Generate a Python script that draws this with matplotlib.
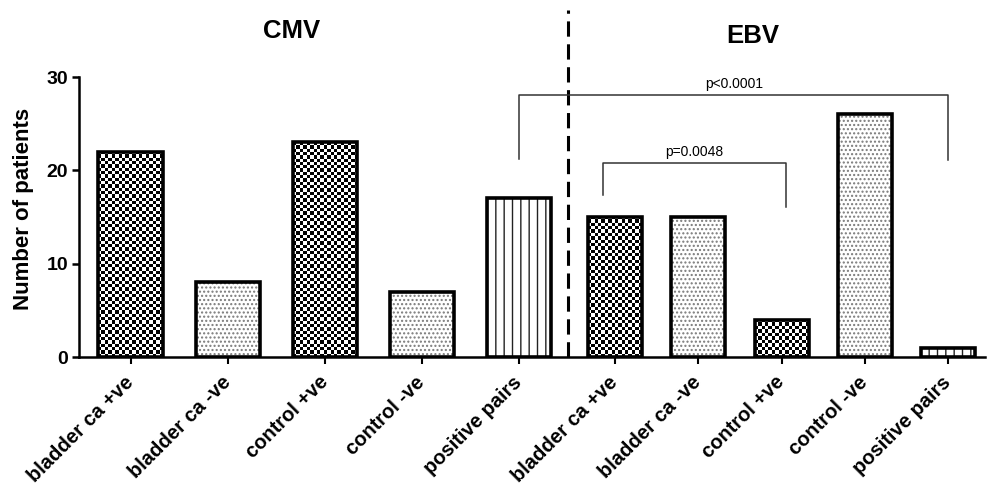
import numpy as np
import matplotlib
matplotlib.use("Agg")
import matplotlib.pyplot as plt

plt.rcParams['font.family'] = ['Liberation Sans', 'DejaVu Sans']
plt.rcParams['hatch.linewidth'] = 1.0

# data
categories = ['bladder ca +ve', 'bladder ca -ve', 'control +ve', 'control -ve', 'positive pairs']
cmv_counts = [22, 8, 23, 7, 17]
ebv_counts = [15, 15, 4, 26, 1]
patterns = ['checker', 'dots', 'checker', 'dots', 'lines']

# layout (x in units of the CMV bar spacing)
cmv_x = 0.53 + np.arange(5)
ebv_x = 5.515 + 0.856 * np.arange(5)
cmv_w = 0.66
ebv_w = 0.555
divider_x = 5.03

fig = plt.figure(figsize=(9.95, 4.88), dpi=100)
ax = fig.add_axes([0.0794, 0.2684, 0.9106, 0.5738])
ax.set_xlim(0, 9.32)
ax.set_ylim(0, 30)


def checker(bar, cell_px=3.3):
    x0, w, h = bar.get_x(), bar.get_width(), bar.get_height()
    p0 = ax.transData.transform((x0, 0))
    p1 = ax.transData.transform((x0 + w, h))
    nx = max(1, int(round((p1[0] - p0[0]) / cell_px)))
    ny = max(1, int(round((p1[1] - p0[1]) / cell_px)))
    grid = np.add.outer(np.arange(ny), np.arange(nx)) % 2
    im = ax.imshow(grid, cmap='gray', vmin=0, vmax=1, extent=(x0, x0 + w, 0, h), origin='lower',
                   interpolation='nearest', aspect='auto', zorder=2)
    im.set_clip_path(bar)


def draw_group(xs, counts, width):
    bars = ax.bar(xs, counts, width=width, color='white', linewidth=0, zorder=1)
    for bar, pat in zip(bars, patterns):
        if pat == 'checker':
            checker(bar)
        elif pat == 'dots':
            ax.bar(bar.get_x() + bar.get_width() / 2, bar.get_height(), width=bar.get_width(),
                   fill=False, edgecolor='#7a7a7a', hatch='....', linewidth=0, zorder=2)
        else:
            ax.bar(bar.get_x() + bar.get_width() / 2, bar.get_height(), width=bar.get_width(),
                   fill=False, edgecolor='#222222', hatch='||', linewidth=0, zorder=2)
    ax.bar(xs, counts, width=width, fill=False, edgecolor='black', linewidth=2.6, zorder=4)


draw_group(cmv_x, cmv_counts, cmv_w)
draw_group(ebv_x, ebv_counts, ebv_w)
ax.set_xlim(0, 9.32)
ax.set_ylim(0, 30)

# dashed divider
ax.plot([divider_x, divider_x], [0, 37.2], color='black', lw=2.2,
        dashes=(5, 2.5), clip_on=False, zorder=5)

# significance brackets
bk = dict(color='#333333', lw=1.1, clip_on=False, zorder=5)
ax.plot([cmv_x[4], cmv_x[4], ebv_x[4], ebv_x[4]], [21.2, 28.1, 28.1, 21.1], **bk)
ax.text((cmv_x[4] + ebv_x[4]) / 2, 29.2, 'p<0.0001', ha='center', va='center', fontsize=10)
l0, r0 = ebv_x[0] - 0.13, ebv_x[2] + 0.05
ax.plot([l0, l0, r0, r0], [17.4, 20.8, 20.8, 16.1], **bk)
ax.text((l0 + r0) / 2, 22.0, 'p=0.0048', ha='center', va='center', fontsize=10)

# axes styling
for s in ['top', 'right']:
    ax.spines[s].set_visible(False)
ax.spines['left'].set_linewidth(1.8)
ax.spines['bottom'].set_linewidth(1.8)
ax.set_yticks([0, 10, 20, 30])
ax.tick_params(axis='y', labelsize=14, width=1.8, length=5, pad=3)
ax.set_xticks(list(cmv_x) + list(ebv_x))
ax.set_xticklabels(categories + categories, rotation=45, ha='right', va='center',
                   rotation_mode='anchor', fontsize=14.5, fontweight='bold')
ax.tick_params(axis='x', width=1.5, length=5, pad=11)
for lab in ax.get_yticklabels():
    lab.set_fontweight('bold')

ax.set_ylabel('Number of patients', fontsize=16, fontweight='bold')
ax.yaxis.set_label_coords(-0.05, 0.53)

fig.text(0.2935, 0.936, 'CMV', ha='center', va='center', fontsize=18.5, fontweight='bold')
fig.text(0.757, 0.926, 'EBV', ha='center', va='center', fontsize=18.5, fontweight='bold')

fig.savefig('out.png', dpi=100)
